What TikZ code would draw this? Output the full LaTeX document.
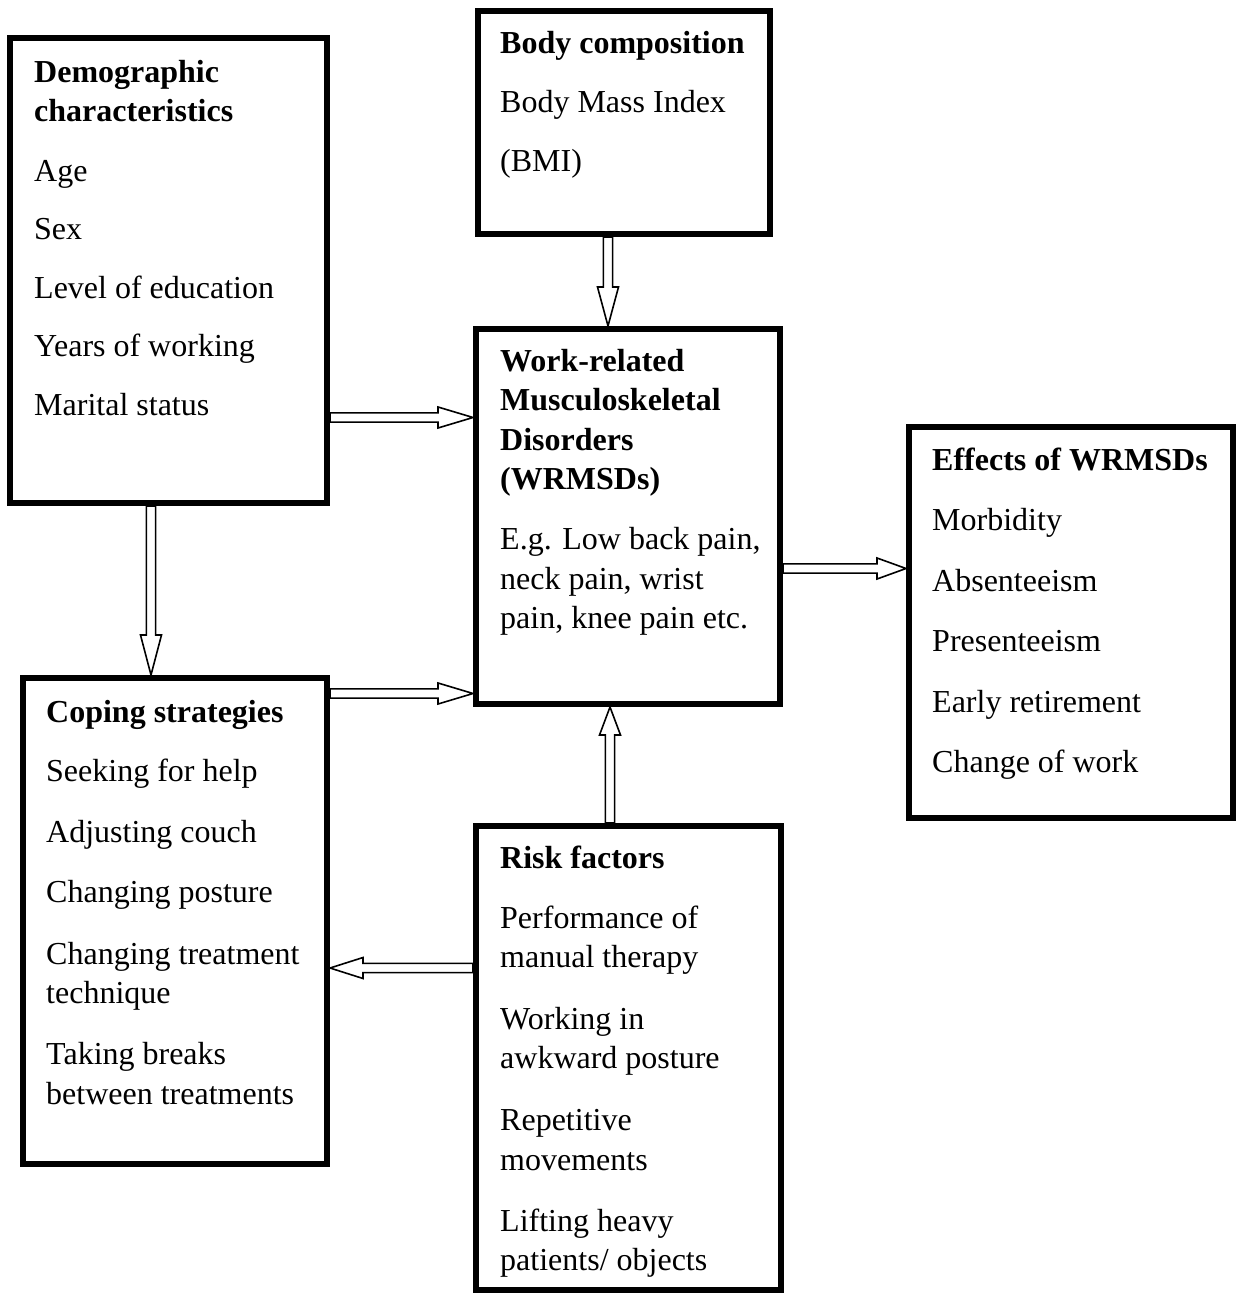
\documentclass[tikz,border=0pt]{standalone}
\usepackage{fontspec}
\setmainfont{Liberation Serif}
\usetikzlibrary{calc}
\tikzset{
  box/.style={draw, rectangle, line width=6pt, inner sep=0pt},
  txt/.style={anchor=base west, inner sep=0pt, font=\fontsize{32}{39.5}\selectfont},
  blockarrow/.style={draw, line width=1.6pt, fill=white, line join=miter}
}
\newcommand\barrow[3]{%
  \path #1 coordinate (bs) #2 coordinate (bt);
  \coordinate (bh) at ($(bt)!#3!(bs)$);
  \draw[blockarrow] ($(bs)!4.6pt!90:(bt)$) -- ($(bh)!4.6pt!90:(bt)$) -- ($(bh)!10.5pt!90:(bt)$)
    -- (bt) -- ($(bh)!10.5pt!-90:(bt)$) -- ($(bh)!4.6pt!-90:(bt)$) -- ($(bs)!4.6pt!-90:(bt)$) -- cycle;
}
\newcommand\lines[2]{\parbox[t]{#1}{\raggedright #2}}
\begin{document}
\begin{tikzpicture}[x=1pt,y=-1pt]
\useasboundingbox[fill=white] (0,0) rectangle (1236,1293);

% boxes
\node[box, minimum width=317pt, minimum height=465pt] (demo) at (168.5,270.5) {};
\node[box, minimum width=292pt, minimum height=223pt] (body) at (624,122.5) {};
\node[box, minimum width=304pt, minimum height=375pt] (wrmsd) at (628,516.5) {};
\node[box, minimum width=324pt, minimum height=391pt] (effects) at (1071,622.5) {};
\node[box, minimum width=304pt, minimum height=486pt] (coping) at (175,921) {};
\node[box, minimum width=305pt, minimum height=464pt] (risk) at (628.5,1058) {};

% texts
\node[txt] (demotxt) at (34,82) {\lines{290pt}{\textbf{Demographic}\\\textbf{characteristics}\\[20pt]
  Age\\[19pt]Sex\\[19pt]Level of education\\[19pt]Years of working\\[19pt]Marital status}};
\node[txt] (bodytxt) at (500,53) {\lines{270pt}{\textbf{Body composition}\\[20pt]Body Mass Index\\[19pt](BMI)}};
\node[txt] (wrmsdtxt) at (500,371) {\lines{280pt}{\textbf{Work-related}\\\textbf{Musculoskeletal}\\\textbf{Disorders}\\\textbf{(WRMSDs)}\\[20.5pt]
  E.g. Low back pain,\\neck pain, wrist\\pain, knee pain etc.}};
\node[txt] (effectstxt) at (932,470) {\lines{300pt}{\textbf{Effects of WRMSDs}\\[21pt]Morbidity\\[21pt]Absenteeism\\[21pt]Presenteeism\\[21pt]Early retirement\\[21pt]Change of work}};
\node[txt] (copingtxt) at (46,722) {\lines{280pt}{\textbf{Coping strategies}\\[20pt]Seeking for help\\[21pt]Adjusting couch\\[21pt]Changing posture\\[22pt]Changing treatment\\technique\\[21.5pt]Taking breaks\\between treatments}};
\node[txt] (risktxt) at (500,868) {\lines{280pt}{\textbf{Risk factors}\\[20.5pt]Performance of\\manual therapy\\[22pt]Working in\\awkward posture\\[22.5pt]Repetitive\\movements\\[21.5pt]Lifting heavy\\patients/ objects}};

% connectors
\barrow{(demo.east |- 0,417.5)}{(wrmsd.west |- 0,417.5)}{35pt}
\barrow{(body.south -| 608,0)}{(wrmsd.north -| 608,0)}{39pt}
\barrow{(demo.south -| 151,0)}{(coping.north -| 151,0)}{40pt}
\barrow{(coping.east |- 0,693.5)}{(wrmsd.west |- 0,693.5)}{35pt}
\barrow{(wrmsd.east |- 0,568.5)}{(effects.west |- 0,568.5)}{29pt}
\barrow{(risk.north -| 610,0)}{(wrmsd.south -| 610,0)}{28pt}
\barrow{(risk.west |- 0,968)}{(coping.east |- 0,968)}{33pt}
\end{tikzpicture}
\end{document}
